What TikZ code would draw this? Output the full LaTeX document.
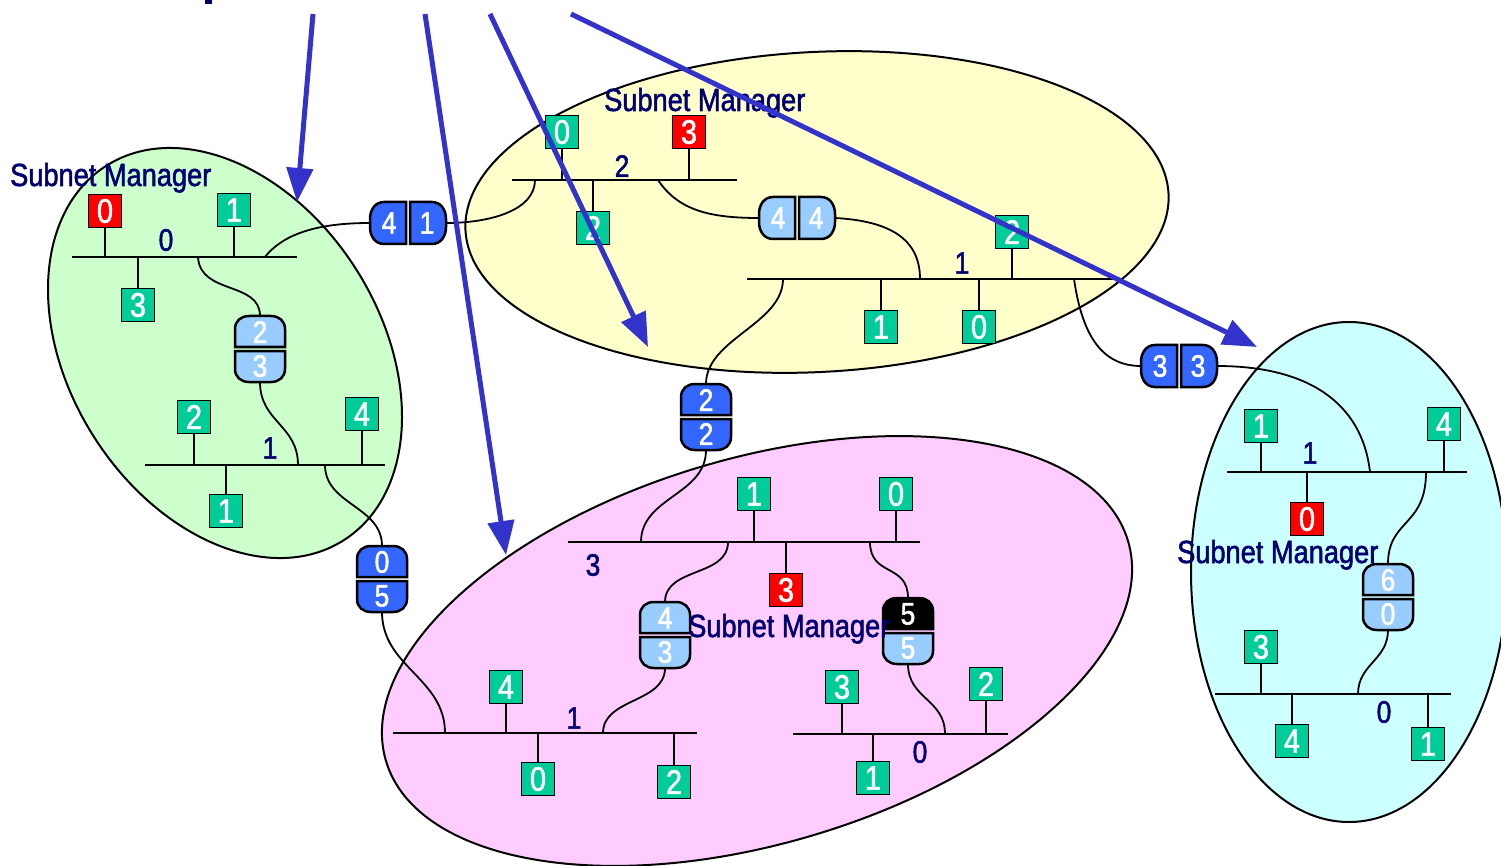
\documentclass[tikz,border=0pt]{standalone}
\usepackage{fontspec}
\setmainfont[FakeStretch=0.85,FakeBold=1.6]{Liberation Sans}
\usetikzlibrary{arrows.meta}

\definecolor{boxgreen}{HTML}{00CC99}
\definecolor{boxred}{HTML}{FF0000}
\definecolor{rtblue}{HTML}{3366FF}
\definecolor{rtlight}{HTML}{99CCFF}
\definecolor{navy}{HTML}{000070}
\definecolor{arrowblue}{HTML}{3333CC}
\definecolor{ellgreen}{HTML}{CCFFCC}
\definecolor{ellyellow}{HTML}{FFFFCC}
\definecolor{ellpink}{HTML}{FFCCFF}
\definecolor{ellcyan}{HTML}{CCFFFF}

% vertical router: name, x, y, top fill, top text, bottom fill, bottom text
\newcommand{\vrouter}[7]{%
\begin{scope}[shift={(#2,#3)}]
  \draw[rtr,fill=#4] (-25,-2) -- (-25,-20) .. controls (-25,-28) and (-19,-33) .. (-11,-33)
     -- (11,-33) .. controls (19,-33) and (25,-28) .. (25,-20) -- (25,-2) -- cycle;
  \draw[rtr,fill=#6] (-25,2) -- (-25,20) .. controls (-25,28) and (-19,33) .. (-11,33)
     -- (11,33) .. controls (19,33) and (25,28) .. (25,20) -- (25,2) -- cycle;
  \node[rlab] (#1t) at (0,-17) {#5};
  \node[rlab] (#1b) at (0,17) {#7};
  \coordinate (#1-n) at (0,-33);
  \coordinate (#1-s) at (0,33);
\end{scope}}

% horizontal router: name, x, y, left fill, left text, right fill, right text
\newcommand{\hrouter}[7]{%
\begin{scope}[shift={(#2,#3)}]
  \draw[rtr,fill=#4] (-2,-21) -- (-24,-21) .. controls (-33,-21) and (-38,-13) .. (-38,-4)
     -- (-38,4) .. controls (-38,13) and (-33,21) .. (-24,21) -- (-2,21) -- cycle;
  \draw[rtr,fill=#6] (2,-21) -- (24,-21) .. controls (33,-21) and (38,-13) .. (38,-4)
     -- (38,4) .. controls (38,13) and (33,21) .. (24,21) -- (2,21) -- cycle;
  \node[rlab] (#1l) at (-19,0) {#5};
  \node[rlab] (#1r) at (19,0) {#7};
  \coordinate (#1-w) at (-38,0);
  \coordinate (#1-e) at (38,0);
\end{scope}}

% station box on a bus: name, style, x, box y, bus y, text
\newcommand{\tap}[6]{%
  \node[#2] (#1) at (#3,#4) {#6};
  \coordinate (#1-bus) at (#3,#5);
  \draw[stem] (#1-bus) -- (#1);}

% bus line: name, x west, x east, y
\newcommand{\bus}[4]{%
  \coordinate (#1w) at (#2,#4);
  \coordinate (#1e) at (#3,#4);
  \draw[busline] (#1w) -- (#1e);}

\begin{document}
\begin{tikzpicture}[x=1pt,y=-1pt,
  ell/.style={draw=black, line width=2pt},
  busline/.style={line width=2pt},
  stem/.style={line width=1.8pt},
  wire/.style={line width=1.8pt},
  rtr/.style={draw=black, line width=2.5pt},
  box/.style={draw=black, line width=1.3pt, minimum width=33pt, minimum height=33pt,
    inner sep=0pt, text=white, font=\fontsize{34}{34}\selectfont},
  gbox/.style={box, fill=boxgreen},
  rbox/.style={box, fill=boxred},
  rlab/.style={text=white, inner sep=0pt, font=\fontsize{31}{31}\selectfont},
  blab/.style={text=navy, inner sep=0pt, font=\fontsize{31}{31}\selectfont},
  sm/.style={text=navy, inner sep=0pt, anchor=base west, font=\fontsize{32}{36}\selectfont},
  arr/.style={draw=arrowblue, line width=5pt, -{Triangle[length=34pt,width=26pt]}}
]
\useasboundingbox (0,0) rectangle (1501,866);
\fill[white] (0,0) rectangle (1501,866);

% subnet regions
\draw[ell,fill=ellgreen,rotate around={-57.7:(225,353)}] (225,353) ellipse [x radius=221.7pt, y radius=155.6pt];
\draw[ell,fill=ellyellow,rotate around={3:(817,212)}] (817,212) ellipse [x radius=352pt, y radius=160pt];
\draw[ell,fill=ellpink,rotate around={16.5:(757,651)}] (757,651) ellipse [x radius=387pt, y radius=192.6pt];
\draw[ell,fill=ellcyan] (1349,572) ellipse [x radius=158pt, y radius=250pt];

% fragment of the heading above
\fill[navy] (205,0) rectangle (212,4);

% buses
\bus{ga}{72}{297}{257}
\bus{gb}{145}{385}{465}
\bus{ya}{512}{737}{180}
\bus{yb}{747}{1120}{279}
\bus{pa}{568}{920}{542}
\bus{pb}{393}{697}{733}
\bus{pc}{793}{1008}{734}
\bus{ca}{1227}{1467}{472}
\bus{cb}{1215}{1451}{694}

% routers
\hrouter{r41}{408}{223}{rtblue}{4}{rtblue}{1}
\hrouter{r44}{797}{218}{rtlight}{4}{rtlight}{4}
\hrouter{r33}{1179}{366}{rtblue}{3}{rtblue}{3}
\vrouter{r23}{260}{349}{rtlight}{2}{rtlight}{3}
\vrouter{r05}{382}{579}{rtblue}{0}{rtblue}{5}
\vrouter{r22}{706}{417}{rtblue}{2}{rtblue}{2}
\vrouter{r43}{665}{635}{rtlight}{4}{rtlight}{3}
\vrouter{r55}{908}{631}{black}{5}{rtlight}{5}
\vrouter{r60}{1388}{597}{rtlight}{6}{rtlight}{0}

% bus tap points of the links
\coordinate (ga1) at (265,257);
\coordinate (ga2) at (198,257);
\coordinate (gb1) at (298,465);
\coordinate (gb2) at (325,465);
\coordinate (ya1) at (535,180);
\coordinate (ya2) at (658,180);
\coordinate (yb1) at (920,279);
\coordinate (yb2) at (783,279);
\coordinate (yb3) at (1074,279);
\coordinate (pa1) at (641,542);
\coordinate (pa2) at (728,542);
\coordinate (pa3) at (870,542);
\coordinate (pb1) at (445,733);
\coordinate (pb2) at (603,733);
\coordinate (pc1) at (945,734);
\coordinate (ca1) at (1370,472);
\coordinate (ca2) at (1426,472);
\coordinate (cb1) at (1358,694);

% links
\draw[wire] (ga1) .. controls +(22,-28) and +(-40,0) .. (r41-w);
\draw[wire] (ga2) .. controls +(2,38) and +(0,-35) .. (r23-n);
\draw[wire] (r23-s) .. controls +(0,40) and +(0,-40) .. (gb1);
\draw[wire] (gb2) .. controls +(0,40) and +(0,-40) .. (r05-n);
\draw[wire] (r05-s) .. controls +(0,55) and +(0,-55) .. (pb1);
\draw[wire] (r41-e) .. controls +(45,0) and +(0,30) .. (ya1);
\draw[wire] (ya2) .. controls +(20,30) and +(-50,0) .. (r44-w);
\draw[wire] (r44-e) .. controls +(55,3) and +(0,-40) .. (yb1);
\draw[wire] (yb2) .. controls +(0,45) and +(0,-45) .. (r22-n);
\draw[wire] (yb3) .. controls +(8,55) and +(-40,0) .. (r33-w);
\draw[wire] (r22-s) .. controls +(0,45) and +(0,-45) .. (pa1);
\draw[wire] (r33-e) .. controls +(90,0) and +(-8,-70) .. (ca1);
\draw[wire] (pa2) .. controls +(0,35) and +(0,-35) .. (r43-n);
\draw[wire] (pa3) .. controls +(0,35) and +(0,-35) .. (r55-n);
\draw[wire] (r43-s) .. controls +(0,35) and +(0,-35) .. (pb2);
\draw[wire] (r55-s) .. controls +(0,35) and +(0,-35) .. (pc1);
\draw[wire] (ca2) .. controls +(0,55) and +(0,-45) .. (r60-n);
\draw[wire] (r60-s) .. controls +(0,30) and +(0,-30) .. (cb1);

% stations
\tap{g0}{rbox}{105}{211}{257}{0}
\tap{g1}{gbox}{234}{210}{257}{1}
\tap{g3}{gbox}{138}{305}{257}{3}
\tap{g2}{gbox}{194}{417}{465}{2}
\tap{g4}{gbox}{362}{414}{465}{4}
\tap{g5}{gbox}{226}{511}{465}{1}

\tap{y0}{gbox}{562}{132}{180}{0}
\tap{y3}{rbox}{689}{132}{180}{3}
\tap{y2}{gbox}{593}{228}{180}{2}
\tap{y4}{gbox}{1012}{232}{279}{2}
\tap{y1}{gbox}{881}{327}{279}{1}
\tap{y5}{gbox}{979}{327}{279}{0}

\tap{p1}{gbox}{754}{494}{542}{1}
\tap{p0}{gbox}{896}{494}{542}{0}
\tap{p3}{rbox}{786}{590}{542}{3}
\tap{p4}{gbox}{506}{687}{733}{4}
\tap{p5}{gbox}{538}{779}{733}{0}
\tap{p2}{gbox}{674}{782}{733}{2}
\tap{p6}{gbox}{842}{687}{734}{3}
\tap{p7}{gbox}{986}{684}{734}{2}
\tap{p8}{gbox}{873}{778}{734}{1}

\tap{c1}{gbox}{1261}{426}{472}{1}
\tap{c4}{gbox}{1444}{424}{472}{4}
\tap{c0}{rbox}{1307}{519}{472}{0}
\tap{c3}{gbox}{1261}{647}{694}{3}
\tap{c5}{gbox}{1292}{741}{694}{4}
\tap{c6}{gbox}{1428}{744}{694}{1}

% bus numbers
\node[blab] (lga) at (166,240) {0};
\node[blab] (lgb) at (270,448) {1};
\node[blab] (lya) at (622,166) {2};
\node[blab] (lyb) at (962,263) {1};
\node[blab] (lpa) at (593,565) {3};
\node[blab] (lpb) at (574,718) {1};
\node[blab] (lpc) at (920,752) {0};
\node[blab] (lca) at (1310,453) {1};
\node[blab] (lcb) at (1384,712) {0};

% subnet managers
\node[sm] (smg) at (10,186) {Subnet Manager};
\node[sm] (smy) at (604,111) {Subnet Manager};
\node[sm] (smp) at (688,637) {Subnet Manager};
\node[sm] (smc) at (1177,563) {Subnet Manager};

% pointers
\coordinate (a1s) at (313,14);
\coordinate (a1e) at (297,202);
\coordinate (a2s) at (425,14);
\coordinate (a2e) at (506,555);
\coordinate (a3s) at (490,14);
\coordinate (a3e) at (648,347);
\coordinate (a4s) at (571,14);
\coordinate (a4e) at (1257,347);
\draw[arr] (a1s) -- (a1e);
\draw[arr] (a2s) -- (a2e);
\draw[arr] (a3s) -- (a3e);
\draw[arr] (a4s) -- (a4e);
\end{tikzpicture}
\end{document}
